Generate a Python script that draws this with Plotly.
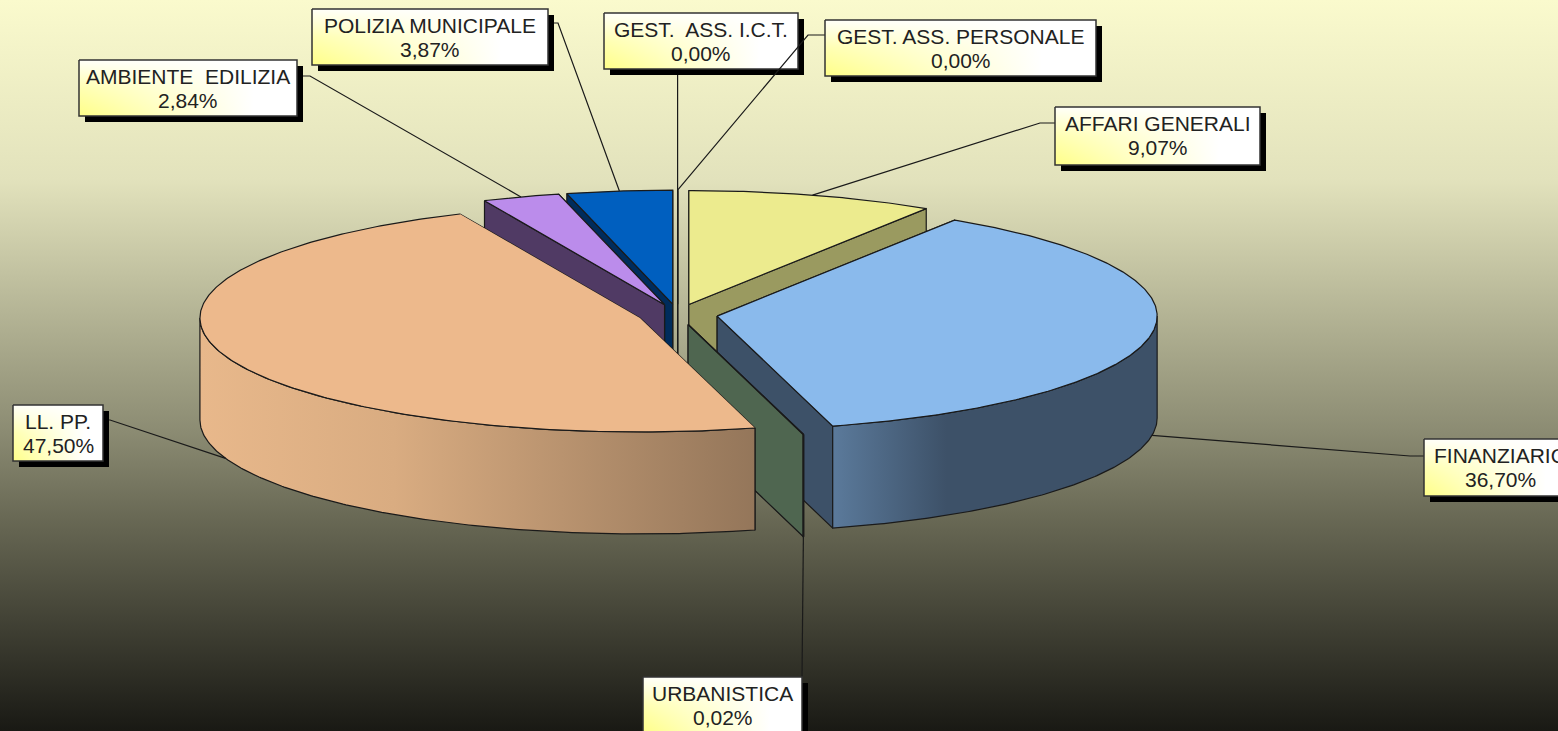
import math
import plotly.graph_objects as go

# Data (clockwise from 12 o'clock)
categories = ["AFFARI GENERALI", "FINANZIARIO", "URBANISTICA", "LL. PP.",
              "AMBIENTE  EDILIZIA", "POLIZIA MUNICIPALE", "GEST.  ASS. I.C.T.", "GEST. ASS. PERSONALE"]
values = [9.07, 36.70, 0.02, 47.50, 2.84, 3.87, 0.00, 0.00]

# Pie geometry, in pixels
CX, CY = 677.6, 314.5
RX, RY = 440, 114
DEPTH = 102
EXPLODE = 40
W, H = 1558, 731

top_colors = ["#ECEB8E", "#8ABAEC", "#7FA07F", "#EDB98C", "#BB8CEB", "#005FBF", "#ECEB8E", "#8ABAEC"]
cut_colors = ["#9A9A60", "#3D5168", "#4F6650", "#94765A", "#503A64", "#002C5C", "#9A9A60", "#3D5168"]
wall_scales = {
    "FINANZIARIO": [[0, "#5B7A9B"], [0.35, "#3D5168"], [1, "#3D5168"]],
    "LL. PP.": [[0, "#E8B88B"], [0.35, "#D9AC81"], [1, "#94765A"]],
}
# back to front
draw_order = [6, 7, 5, 4, 0, 1, 2, 3]
no_cut_line = ["LL. PP."]

# label boxes: left, top, right, bottom
boxes = {
    "AFFARI GENERALI": (1055, 107, 1260, 165),
    "FINANZIARIO": (1424, 439, 1576, 496),
    "URBANISTICA": (643, 677, 802, 733),
    "LL. PP.": (13, 405, 103, 461),
    "AMBIENTE  EDILIZIA": (79, 60, 297, 116),
    "POLIZIA MUNICIPALE": (312, 9, 548, 65),
    "GEST.  ASS. I.C.T.": (604, 13, 798, 69),
    "GEST. ASS. PERSONALE": (825, 20, 1096, 76),
}
elbows = {
    "AFFARI GENERALI": [(1040, 123), (1055, 123)],
    "FINANZIARIO": [(1410, 456), (1424, 456)],
    "URBANISTICA": [(802, 677)],
    "LL. PP.": [(110, 420), (103, 420)],
    "AMBIENTE  EDILIZIA": [(310, 76), (297, 76)],
    "POLIZIA MUNICIPALE": [(558, 23), (548, 23)],
    "GEST.  ASS. I.C.T.": [(677.6, 69)],
    "GEST. ASS. PERSONALE": [(808, 35), (825, 35)],
}

fig = go.Figure()


def poly(xs, ys, fill=None, line=None, gradient=None, width=1.2):
    fig.add_trace(go.Scatter(
        x=xs, y=ys, mode="lines", fill="toself",
        fillcolor=fill if fill else "rgba(0,0,0,0)",
        fillgradient=gradient,
        line=dict(color=line if line else "rgba(0,0,0,0)", width=width),
        hoverinfo="skip", showlegend=False,
    ))


def arc(ox, oy, a0, a1):
    n = max(2, int(abs(a1 - a0)) * 2)
    angs = [math.radians(a0 + (a1 - a0) * i / n) for i in range(n + 1)]
    return [ox + RX * math.cos(a) for a in angs], [oy - RY * math.sin(a) for a in angs]


def to_front(a):
    # angular distance from the direction facing the viewer
    return abs((a + 270) % 360 - 180)


# background (colorscale runs bottom to top here)
poly([0, W, W, 0, 0], [0, 0, H, H, 0], gradient=dict(
    type="vertical",
    colorscale=[[0, "rgb(25,25,20)"], [0.293, "rgb(105,105,85)"], [0.412, "rgb(140,140,115)"],
                [0.754, "rgb(226,226,188)"], [1, "rgb(250,250,205)"]],
))

# slice angles
starts = []
mids = []
ends = []
ang = 90.0
for v in values:
    starts.append(ang)
    ang -= v * 3.6
    ends.append(ang)
    mids.append((starts[-1] + ends[-1]) / 2)

anchors = {}
for i in draw_order:
    name = categories[i]
    a0, a1, am = starts[i], ends[i], mids[i]
    ox = CX + EXPLODE * math.cos(math.radians(am))
    oy = CY - EXPLODE * RY / RX * math.sin(math.radians(am))
    ax, ay = arc(ox, oy, a0, a1)

    # cut faces, the one turned to the viewer goes last
    faces = [(a0, ax[0], ay[0]), (a1, ax[-1], ay[-1])]
    faces.sort(key=lambda f: -to_front(f[0]))
    for _, ex, ey in faces:
        poly([ox, ex, ex, ox, ox], [oy, ey, ey + DEPTH, oy + DEPTH, oy], fill=cut_colors[i], line="#1A1A1A")

    # outer wall, only the part that faces the viewer
    if a1 < 0 and a0 > -180 and a0 != a1:
        w0, w1 = min(a0, 0), max(a1, -180)
        wx, wy = arc(ox, oy, w0, w1)
        xs = wx + wx[::-1] + [wx[0]]
        ys = wy + [y + DEPTH for y in wy[::-1]] + [wy[0]]
        if name in wall_scales:
            poly(xs, ys, line="#1A1A1A", gradient=dict(type="horizontal", colorscale=wall_scales[name]))
        else:
            poly(xs, ys, fill=cut_colors[i], line="#1A1A1A")

    # top face
    if name in no_cut_line:
        poly([ox] + ax + [ox], [oy] + ay + [oy], fill=top_colors[i])
        fig.add_trace(go.Scatter(x=ax, y=ay, mode="lines", line=dict(color="#1A1A1A", width=1.2),
                                 hoverinfo="skip", showlegend=False))
    else:
        poly([ox] + ax + [ox], [oy] + ay + [oy], fill=top_colors[i], line="#1A1A1A")

    # leader starts at the middle of the rim
    s = math.sin(math.radians(am))
    anchors[name] = (ox + RX * math.cos(math.radians(am)), oy - RY * s + (DEPTH if s < 0 else 0))

# leaders and label boxes
for name, v in zip(categories, values):
    pts = [anchors[name]] + elbows[name]
    fig.add_trace(go.Scatter(x=[p[0] for p in pts], y=[p[1] for p in pts], mode="lines",
                             line=dict(color="#1A1A1A", width=1.2), hoverinfo="skip", showlegend=False))
    x0, y0, x1, y1 = boxes[name]
    poly([x0 + 6, x1 + 6, x1 + 6, x0 + 6, x0 + 6], [y0 + 6, y0 + 6, y1 + 6, y1 + 6, y0 + 6], fill="#000000")
    poly([x0, x1, x1, x0, x0], [y0, y0, y1, y1, y0], gradient=dict(
        type="horizontal", colorscale=[[0, "#FFFF88"], [0.8, "#FFFFFF"], [1, "#FFFFFF"]]))
    poly([x0, x1, x1, x0, x0], [y0, y0, y1, y1, y0], line="#333333", width=1.5, gradient=dict(
        type="vertical", colorscale=[[0, "rgba(255,255,255,0)"], [0.5, "rgba(255,255,255,0.35)"],
                                     [1, "rgba(255,255,255,0.95)"]]))
    xc = (x0 + x1) / 2
    for text, dy in ((name, 16), (f"{v:.2f}".replace(".", ",") + "%", 40.5)):
        fig.add_annotation(x=xc, y=y0 + dy, text=text.replace("  ", "&nbsp; "), showarrow=False,
                           font=dict(family="Liberation Sans", size=21, color="#222222"),
                           xanchor="center", yanchor="middle")

fig.update_layout(
    width=W, height=H, margin=dict(l=0, r=0, t=0, b=0),
    paper_bgcolor="#888870", plot_bgcolor="#888870", showlegend=False, hovermode=False,
    xaxis=dict(range=[0, W], visible=False, fixedrange=True),
    yaxis=dict(range=[H, 0], visible=False, fixedrange=True),
)

fig.write_html("out.html", config=dict(displayModeBar=False),
               post_script="document.body.style.margin='0';document.body.style.overflow='hidden';")
